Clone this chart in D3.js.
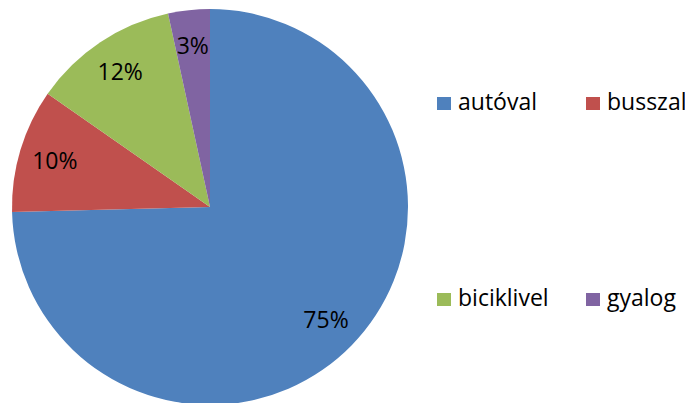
<!DOCTYPE html>
<html>
<head>
<meta charset="utf-8">
<script src="https://cdn.jsdelivr.net/npm/d3@7"></script>
<style>
  html, body { margin: 0; padding: 0; background: #fff; }
  svg { display: block; }
  text { font-family: "Open Sans", sans-serif; fill: #000; }
</style>
</head>
<body>
<svg id="chart"></svg>
<script>
const categories = ["autóval", "busszal", "biciklivel", "gyalog"];
const values = [74.6, 10.1, 11.9, 3.4];
const colors = ["#4F81BD", "#C0504D", "#9BBB59", "#8064A2"];

const width = 685;
const height = 403;
const cx = 210;
const cy = 207;
const radius = 198;

const svg = d3.select("#chart")
  .attr("width", width)
  .attr("height", height);

const data = categories.map((c, i) => ({ name: c, value: values[i], color: colors[i] }));
const total = d3.sum(values);

/* -------------------------
   PIE SLICES
-------------------------- */

const pie = d3.pie()
  .value(d => d.value)
  .sort(null);

const arc = d3.arc()
  .innerRadius(0)
  .outerRadius(radius);

const labelArc = d3.arc()
  .innerRadius(162)
  .outerRadius(162);

const g = svg.append("g")
  .attr("transform", `translate(${cx},${cy})`);

const arcs = pie(data);

g.selectAll("path.slice")
  .data(arcs)
  .enter()
  .append("path")
  .attr("class", "slice")
  .attr("d", arc)
  .attr("fill", d => d.data.color);

g.selectAll("text.label")
  .data(arcs)
  .enter()
  .append("text")
  .attr("class", "label")
  .attr("transform", d => `translate(${labelArc.centroid(d)})`)
  .attr("text-anchor", "middle")
  .attr("dy", "0.36em")
  .attr("font-size", 23)
  .text(d => Math.round(d.data.value / total * 100) + "%");

/* -------------------------
   LEGEND (2 x 2)
-------------------------- */

const legendCol = d3.scalePoint().domain([0, 1]).range([437, 586]);
const legendRow = d3.scalePoint().domain([0, 1]).range([110, 306]);

const legend = svg.selectAll("g.legend")
  .data(data)
  .enter()
  .append("g")
  .attr("class", "legend")
  .attr("transform", (d, i) => `translate(${legendCol(i % 2)},${legendRow(Math.floor(i / 2))})`);

legend.append("rect")
  .attr("x", 0)
  .attr("y", -13)
  .attr("width", 14)
  .attr("height", 13)
  .attr("fill", d => d.color);

legend.append("text")
  .attr("x", 21)
  .attr("y", 0)
  .attr("font-size", 23)
  .text(d => d.name);
</script>
</body>
</html>
